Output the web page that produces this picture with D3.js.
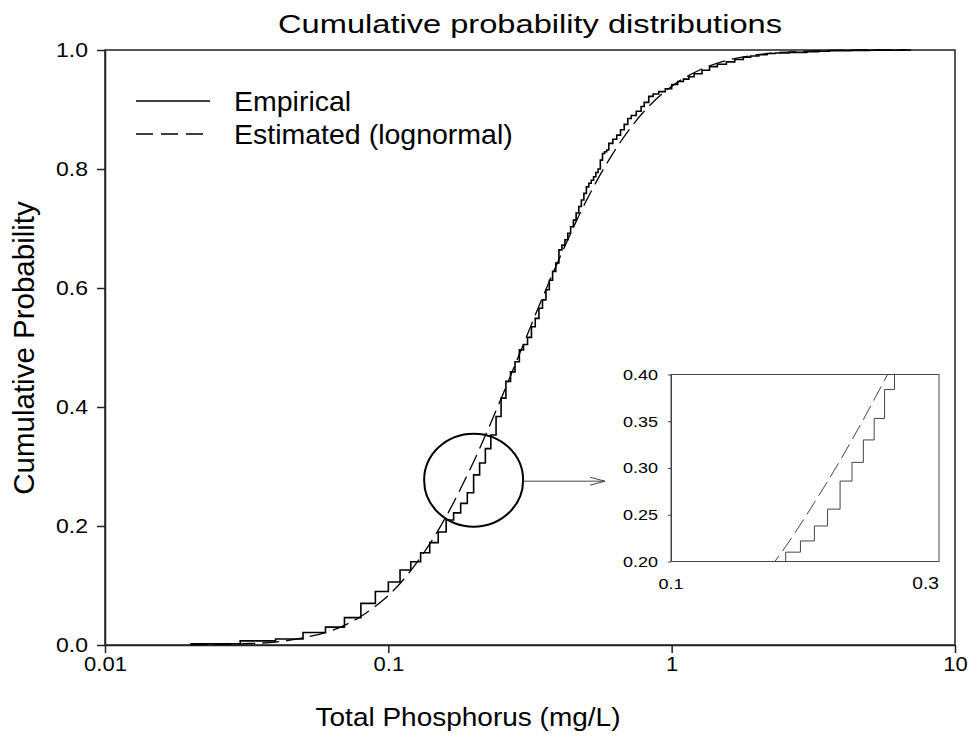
<!DOCTYPE html>
<html>
<head>
<meta charset="utf-8">
<script src="https://cdn.jsdelivr.net/npm/d3@7/dist/d3.min.js"></script>
<style>
body { margin: 0; background: #fff; }
text { font-family: "Liberation Sans", Arial, sans-serif; fill: #000; }
</style>
</head>
<body>
<script>
// empirical cdf - steps (TP mg/L, cumulative prob)
var empX = [0.02,0.03,0.04,0.05,0.06,0.07,0.08,0.09,0.10,0.11,0.12,0.13,0.14,0.15,0.16,0.17,0.18,0.19,0.20,
            0.21,0.22,0.23,0.24,0.25,0.26,0.27,0.28,0.29,0.30,0.31,0.32,0.33,0.34,0.35,0.36,0.37,0.38,0.39,0.40,
            0.41,0.42,0.43,0.44,0.45,0.46,0.47,0.48,0.49,0.50,0.51,0.52,0.53,0.54,0.55,0.56,0.57,0.58,0.59,0.60,
            0.62,0.64,0.66,0.68,0.70,0.72,0.75,0.78,0.80,0.83,0.86,0.90,0.95,1.0,1.05,1.1,1.15,1.2,1.28,1.36,
            1.45,1.56,1.67,1.79,1.9,2.03,2.17,2.32,2.6,3.0,3.3,3.6,4.3,5.0,6.7];
var empP = [0.002,0.007,0.010,0.021,0.030,0.046,0.070,0.090,0.106,0.126,0.140,0.155,0.172,0.190,0.210,0.222,0.238,0.256,0.286,
            0.306,0.330,0.353,0.384,0.415,0.443,0.459,0.476,0.496,0.505,0.517,0.535,0.549,0.566,0.580,0.597,0.613,0.628,0.642,0.664,
            0.672,0.681,0.692,0.703,0.714,0.726,0.737,0.748,0.759,0.770,0.776,0.781,0.787,0.794,0.800,0.815,0.826,0.829,0.832,0.843,
            0.850,0.857,0.866,0.875,0.885,0.890,0.897,0.905,0.912,0.922,0.926,0.930,0.935,0.942,0.947,0.951,0.955,0.960,0.966,0.972,
            0.976,0.980,0.984,0.988,0.990,0.992,0.994,0.995,0.996,0.997,0.998,0.999,0.9993,0.9995,1.0];

// fitted lognormal curve
var estX = [0.02,0.03,0.04,0.05,0.06,0.07,0.08,0.09,0.10,0.12,0.14,0.16,0.18,0.20,0.25,0.30,0.35,0.40,0.50,0.60,0.70,0.80,1.0,1.25,1.5,2.0,3.0,5.0,7.0];
var estP = [0.0001,0.002,0.005,0.012,0.021,0.033,0.048,0.065,0.083,0.125,0.170,0.216,0.263,0.308,0.414,0.506,0.584,0.648,0.747,0.815,0.863,0.897,0.939,0.966,0.980,0.992,0.998,1.0,1.0];

var xTicks = [0.01, 0.1, 1, 10];
var xTickLabels = ["0.01", "0.1", "1", "10"];
var yTicks = [0, 0.2, 0.4, 0.6, 0.8, 1.0];
var insetXTicks = [0.1, 0.3];
var insetYTicks = [0.20, 0.25, 0.30, 0.35, 0.40];
var seriesNames = ["Empirical", "Estimated (lognormal)"];

var emp = empX.map(function(d, i) { return [d, empP[i]]; });
var est = estX.map(function(d, i) { return [d, estP[i]]; });

var W = 970, H = 736;
var svg = d3.select("body").append("svg").attr("width", W).attr("height", H);

var x = d3.scaleLog().domain([0.01, 10]).range([105, 955]);
var y = d3.scaleLinear().domain([0, 1]).range([645, 50]);

// text a bit wider than the font (the original looks stretched sideways)
function label(g, txt, px, py, size, sx, anchor) {
  return g.append("text")
    .attr("transform", "translate(" + px + "," + py + ") scale(" + sx + ",1)")
    .attr("text-anchor", anchor || "middle")
    .style("font-size", size + "px")
    .text(txt);
}

// frame
svg.append("rect").attr("x", 105).attr("y", 50).attr("width", 850).attr("height", 595)
  .attr("fill", "none").attr("stroke", "#222").attr("stroke-width", 1.5);

var yAxis = svg.append("g").attr("transform", "translate(105,0)")
  .call(d3.axisLeft(y).tickValues(yTicks).tickFormat(d3.format(".1f")).tickSize(8).tickSizeOuter(0).tickPadding(9));
var xAxis = svg.append("g").attr("transform", "translate(0,645)")
  .call(d3.axisBottom(x).tickValues(xTicks).tickFormat(function(d, i) { return xTickLabels[i]; }).tickSize(8).tickSizeOuter(0).tickPadding(4));

[yAxis, xAxis].forEach(function(a) {
  a.select(".domain").attr("stroke", "#222").attr("stroke-width", 1.5);
  a.selectAll(".tick line").attr("stroke", "#222").attr("stroke-width", 1.5);
  a.selectAll(".tick text").attr("fill", "#000").style("font-size", "20px").attr("font-family", null);
});
yAxis.selectAll(".tick text").attr("x", -17 / 1.15).attr("transform", "scale(1.15,1)");
xAxis.selectAll(".tick text").attr("transform", "scale(1.1,1)");

// title + axis titles
label(svg, "Cumulative probability distributions", 530, 33, 25.5, 1.28);
label(svg, "Total Phosphorus (mg/L)", 468, 726, 25, 1.12);
svg.append("text").attr("transform", "translate(34,348) rotate(-90)")
  .attr("text-anchor", "middle").style("font-size", "29.5px").text("Cumulative Probability");

// curves
var empLine = d3.line().x(function(d) { return x(d[0]); }).y(function(d) { return y(d[1]); }).curve(d3.curveStepAfter);
var estLine = d3.line().x(function(d) { return x(d[0]); }).y(function(d) { return y(d[1]); }).curve(d3.curveMonotoneX);

svg.append("path").datum(est).attr("d", estLine).attr("fill", "none")
  .attr("stroke", "#000").attr("stroke-width", 1.3).attr("stroke-dasharray", "17,7");
svg.append("path").datum(emp).attr("d", empLine).attr("fill", "none")
  .attr("stroke", "#000").attr("stroke-width", 1.6);

// legend
var leg = svg.append("g");
seriesNames.forEach(function(n, i) {
  var ly = 101 + i * 33;
  leg.append("line").attr("x1", 136).attr("x2", 210).attr("y1", ly).attr("y2", ly)
    .attr("stroke", "#000").attr("stroke-width", 1.3)
    .attr("stroke-dasharray", i == 1 ? "17,8" : null);
  label(leg, n, 234, ly + 10, 28.5, 1, "start");
});

// circle around the zoomed region + arrow
var cx = x(0.20), cy = y(0.277);
svg.append("ellipse").attr("cx", cx).attr("cy", cy).attr("rx", 49.5).attr("ry", 46.5)
  .attr("fill", "none").attr("stroke", "#000").attr("stroke-width", 2);
svg.append("line").attr("x1", cx + 49.5).attr("x2", 605).attr("y1", cy + 1).attr("y2", cy + 1)
  .attr("stroke", "#444").attr("stroke-width", 1);
svg.append("path").attr("d", "M590," + (cy - 3) + "L605," + (cy + 1) + "L590," + (cy + 5))
  .attr("fill", "none").attr("stroke", "#444").attr("stroke-width", 1);

// inset
var ix = d3.scaleLog().domain([0.1, 0.3]).range([671, 939]);
var iy = d3.scaleLinear().domain([0.2, 0.4]).range([561.5, 374.5]);

svg.append("clipPath").attr("id", "insetClip").append("rect")
  .attr("x", 671).attr("y", 374.5).attr("width", 268).attr("height", 187);

var inset = svg.append("g");
inset.append("rect").attr("x", 671).attr("y", 374.5).attr("width", 268).attr("height", 187)
  .attr("fill", "#fff").attr("stroke", "#444").attr("stroke-width", 1);

var iEmp = d3.line().x(function(d) { return ix(d[0]); }).y(function(d) { return iy(d[1]); }).curve(d3.curveStepAfter);
var iEst = d3.line().x(function(d) { return ix(d[0]); }).y(function(d) { return iy(d[1]); }).curve(d3.curveMonotoneX);
var ic = inset.append("g").attr("clip-path", "url(#insetClip)");
ic.append("path").datum(est).attr("d", iEst).attr("fill", "none")
  .attr("stroke", "#444").attr("stroke-width", 1).attr("stroke-dasharray", "16,6");
ic.append("path").datum(emp).attr("d", iEmp).attr("fill", "none")
  .attr("stroke", "#444").attr("stroke-width", 1);

var iyAxis = inset.append("g").attr("transform", "translate(671,0)")
  .call(d3.axisLeft(iy).tickValues(insetYTicks).tickFormat(d3.format(".2f")).tickSize(3).tickSizeOuter(0).tickPadding(10));
iyAxis.select(".domain").attr("stroke", "#444");
iyAxis.selectAll(".tick line").attr("stroke", "#444");
iyAxis.selectAll(".tick text").attr("fill", "#222").style("font-size", "15px").attr("font-family", null)
  .attr("x", -13 / 1.2).attr("transform", "scale(1.2,1)");

label(inset, "0.1", ix(insetXTicks[0]), 589, 15, 1.2).attr("fill", "#222");
label(inset, "0.3", ix(insetXTicks[1]), 589, 16, 1.2, "end");
</script>
</body>
</html>
